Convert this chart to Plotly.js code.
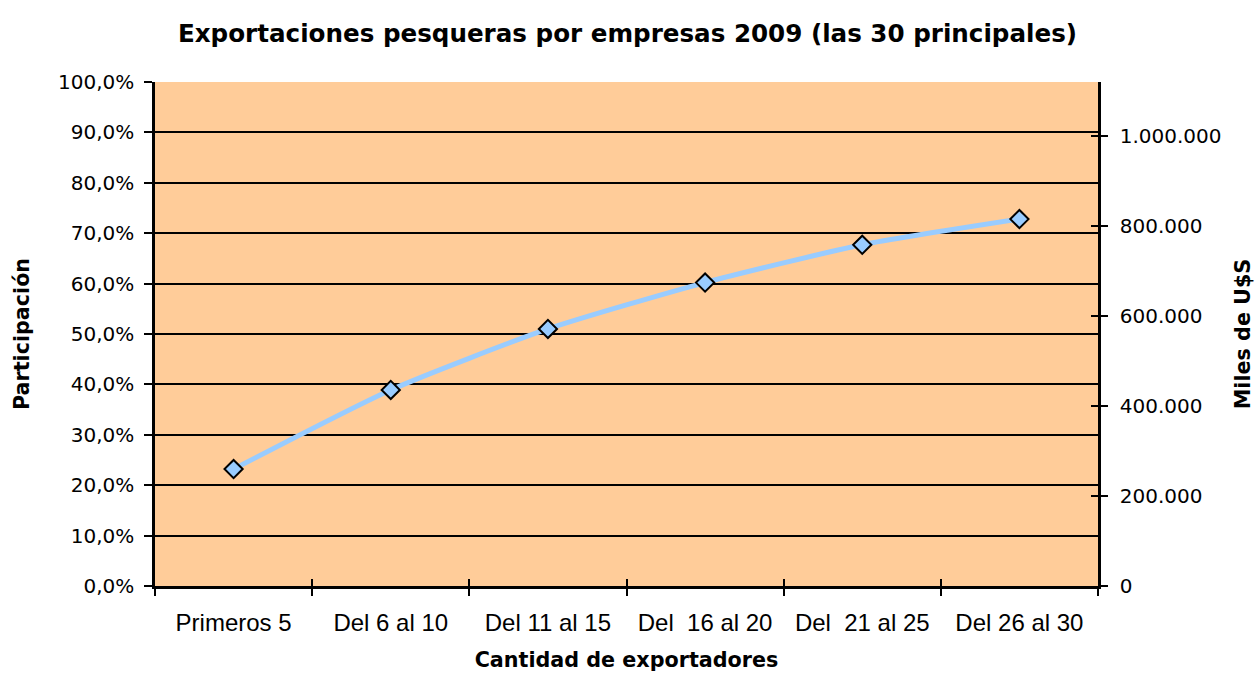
<!DOCTYPE html>
<html>
<head>
<meta charset="utf-8">
<script src="https://cdn.plot.ly/plotly-3.0.1.min.js"></script>
<style>html,body{margin:0;padding:0;background:#fff;}#chart{width:1255px;height:675px;}</style>
</head>
<body>
<div id="chart"></div>
<script>
// Data
const categories = ["Primeros 5", "Del 6 al 10", "Del 11 al 15", "Del \u00a016 al 20", "Del \u00a021 al 25", "Del 26 al 30"];
const participacion = [0.232, 0.389, 0.510, 0.602, 0.677, 0.728];
const rightTickVals = [0, 200000, 400000, 600000, 800000, 1000000];
const rightAxisMax = 1120000;
const boundaryVals = [-0.5, 0.5, 1.5, 2.5, 3.5, 4.5, 5.5];

const tickFontY = {family: "DejaVu Sans", size: 20, color: "#000"};
const tickFontX = {family: "Liberation Sans", size: 24, color: "#000"};
const titleFont = {family: "DejaVu Sans", size: 20.7, color: "#000"};

const traces = [
  {
    x: categories,
    y: participacion,
    type: "scatter",
    mode: "lines+markers",
    line: {color: "#99CCFF", width: 5, shape: "spline", smoothing: 0.6},
    marker: {symbol: "diamond", size: 14, color: "#99CCFF", line: {color: "#000", width: 2}},
    hoverinfo: "x+y",
    showlegend: false
  },
  {x: [], y: [], yaxis: "y2", type: "scatter", mode: "markers", showlegend: false, hoverinfo: "skip"},
  {x: [], y: [], xaxis: "x2", yaxis: "y3", type: "scatter", mode: "markers", showlegend: false, hoverinfo: "skip"}
];

const layout = {
  width: 1255,
  height: 675,
  separators: ",.",
  paper_bgcolor: "#FFFFFF",
  plot_bgcolor: "#FFCC99",
  margin: {l: 155, r: 157, t: 82, b: 89, pad: 0},
  showlegend: false,
  title: {
    text: "<b>Exportaciones pesqueras por empresas 2009 (las 30 principales)</b>",
    font: {family: "DejaVu Sans", size: 24.6, color: "#000"},
    x: 0.5, xanchor: "center", xref: "container",
    y: 1 - 33 / 675, yanchor: "middle", yref: "container"
  },
  xaxis: {
    type: "category",
    range: [-0.5, 5.5],
    tickson: "boundaries",
    ticks: "outside",
    ticklen: 7,
    tickwidth: 1.5,
    tickcolor: "#000",
    showline: true,
    linecolor: "#000",
    linewidth: 2.5,
    showgrid: false,
    zeroline: false,
    tickfont: tickFontX,
    ticklabelstandoff: 13,
    title: {text: "<b>Cantidad de exportadores</b>", font: titleFont, standoff: 18},
    fixedrange: true
  },
  xaxis2: {
    overlaying: "x",
    anchor: "y",
    side: "bottom",
    type: "linear",
    range: [-0.5, 5.5],
    tickmode: "array",
    tickvals: boundaryVals,
    ticks: "inside",
    ticklen: 7,
    tickwidth: 1.5,
    tickcolor: "#000",
    showticklabels: false,
    showgrid: false,
    zeroline: false,
    showline: false
  },
  yaxis: {
    range: [0, 1],
    dtick: 0.1,
    tick0: 0,
    tickformat: ".1%",
    ticks: "outside",
    ticklen: 8,
    tickwidth: 1.5,
    tickcolor: "#000",
    showline: true,
    linecolor: "#000",
    linewidth: 2.5,
    showgrid: true,
    gridcolor: "#000",
    gridwidth: 1.8,
    zeroline: false,
    tickfont: tickFontY,
    ticklabelstandoff: 6,
    title: {text: "<b>Participación</b>", font: titleFont, standoff: 23},
    fixedrange: true
  },
  yaxis2: {
    overlaying: "y",
    side: "right",
    anchor: "x",
    range: [0, rightAxisMax],
    tickmode: "array",
    tickvals: rightTickVals,
    tickformat: ",d",
    ticks: "outside",
    ticklen: 7,
    tickwidth: 1.5,
    tickcolor: "#000",
    showline: true,
    linecolor: "#000",
    linewidth: 2.5,
    showgrid: false,
    zeroline: false,
    tickfont: tickFontY,
    ticklabelstandoff: 8,
    title: {text: "<b>Miles de U$S</b>", font: titleFont, standoff: 16},
    fixedrange: true
  },
  yaxis3: {
    overlaying: "y",
    side: "right",
    anchor: "x2",
    range: [0, rightAxisMax],
    tickmode: "array",
    tickvals: rightTickVals,
    ticks: "inside",
    ticklen: 7,
    tickwidth: 1.5,
    tickcolor: "#000",
    showticklabels: false,
    showline: false,
    showgrid: false,
    zeroline: false
  }
};

Plotly.newPlot("chart", traces, layout, {displayModeBar: false, responsive: false, staticPlot: false});
</script>
</body>
</html>
